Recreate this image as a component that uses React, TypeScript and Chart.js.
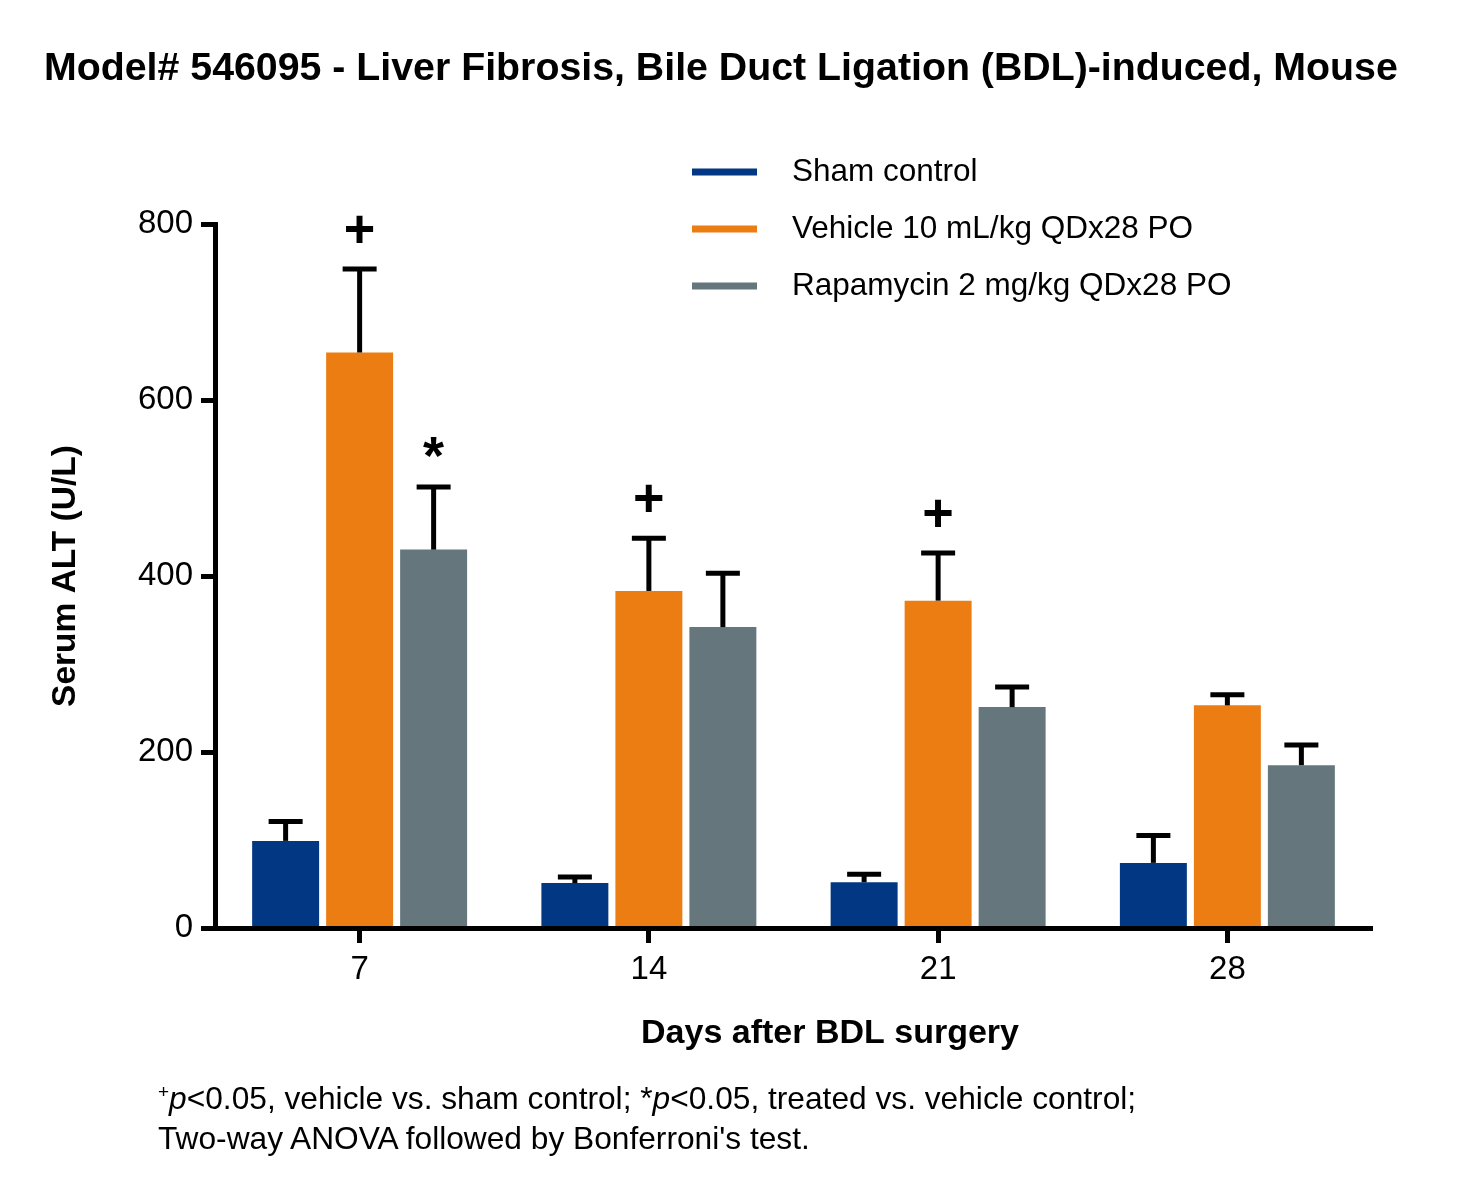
import { useEffect, useRef } from "react"
import { Chart, registerables } from "chart.js"

Chart.register(...registerables)

const FONT = "'Liberation Sans', Arial, sans-serif"

const chartTitle = "Model# 546095 - Liver Fibrosis, Bile Duct Ligation (BDL)-induced, Mouse"
const xTitle = "Days after BDL surgery"
const yTitle = "Serum ALT (U/L)"

// Days after surgery (categories)
const days = ["7", "14", "21", "28"]
const yTicks = [0, 200, 400, 600, 800]

const groupLabels = ["Sham control", "Vehicle 10 mL/kg QDx28 PO", "Rapamycin 2 mg/kg QDx28 PO"]
const groupColors = ["#023883", "#EB7D13", "#65767C"]

// Serum ALT (U/L), mean and upper SEM
const shamMean = [99, 51, 52, 74]
const shamSem = [22, 7, 9, 31]
const vehicleMean = [654, 383, 372, 253]
const vehicleSem = [95, 60, 54, 12]
const rapaMean = [430, 342, 251, 185]
const rapaSem = [71, 61, 23, 23]

// significance marks above the error bars
const shamMarks = ["", "", "", ""]
const vehicleMarks = ["+", "+", "+", ""]
const rapaMarks = ["*", "", "", ""]

const decorPlugin = {
  id: "decor",
  afterDatasetsDraw(chart: any) {
    const { ctx } = chart
    const yScale = chart.scales.y
    ctx.save()
    ctx.strokeStyle = "#000"
    ctx.fillStyle = "#000"
    chart.data.datasets.forEach((ds: any, di: number) => {
      const meta = chart.getDatasetMeta(di)
      meta.data.forEach((bar: any, i: number) => {
        const top = yScale.getPixelForValue(ds.data[i] + ds.sem[i])
        ctx.lineWidth = 5
        ctx.beginPath()
        ctx.moveTo(bar.x, bar.y)
        ctx.lineTo(bar.x, top)
        ctx.stroke()
        ctx.beginPath()
        ctx.moveTo(bar.x - 17, top)
        ctx.lineTo(bar.x + 17, top)
        ctx.stroke()
        const mark = ds.marks[i]
        if (mark) {
          ctx.font = `bold 54px ${FONT}`
          ctx.textAlign = "center"
          ctx.textBaseline = "alphabetic"
          ctx.fillText(mark, bar.x, top - (mark === "*" ? 13 : 22))
        }
      })
    })
    ctx.restore()
  },
  afterDraw(chart: any) {
    const { ctx, chartArea } = chart
    ctx.save()
    ctx.fillStyle = "#000"

    // main title
    ctx.font = `bold 39.3px ${FONT}`
    ctx.textAlign = "left"
    ctx.textBaseline = "middle"
    ctx.fillText(chartTitle, 44, 69)

    // legend inside the plot area
    ctx.font = `31.5px ${FONT}`
    chart.data.datasets.forEach((ds: any, i: number) => {
      const y = chartArea.top - 52 + i * 57
      ctx.fillStyle = ds.backgroundColor
      ctx.fillRect(chartArea.left + 477, y - 3.5, 65, 7)
      ctx.fillStyle = "#000"
      ctx.fillText(ds.label, chartArea.left + 577, y)
    })

    // x axis title (sits right of the plot centre in the original)
    ctx.font = `bold 34px ${FONT}`
    ctx.textAlign = "center"
    ctx.fillText(xTitle, chartArea.left + 615, chartArea.bottom + 106)
    ctx.restore()
  },
}

function AltChart() {
  const chartRef = useRef<HTMLCanvasElement>(null)
  const chartInstance = useRef<Chart | null>(null)

  useEffect(() => {
    if (!chartRef.current) return
    if (chartInstance.current) chartInstance.current.destroy()
    const ctx = chartRef.current.getContext("2d")
    if (!ctx) return

    const means = [shamMean, vehicleMean, rapaMean]
    const sems = [shamSem, vehicleSem, rapaSem]
    const marks = [shamMarks, vehicleMarks, rapaMarks]

    chartInstance.current = new Chart(ctx, {
      type: "bar",
      data: {
        labels: days,
        datasets: groupLabels.map((label, i) => ({
          label,
          data: means[i],
          sem: sems[i],
          marks: marks[i],
          backgroundColor: groupColors[i],
          borderWidth: 0,
          categoryPercentage: 0.7675,
          barPercentage: 0.905,
        })) as any,
      },
      options: {
        responsive: true,
        maintainAspectRatio: false,
        animation: false,
        layout: { padding: { left: 44, right: 110, top: 224, bottom: 201 } },
        plugins: {
          legend: { display: false },
          tooltip: { enabled: false },
        },
        scales: {
          x: {
            border: { display: true, color: "#000", width: 5, z: 1 },
            grid: {
              display: true,
              drawOnChartArea: false,
              drawTicks: true,
              offset: false,
              tickLength: 15,
              tickWidth: 5,
              tickColor: "#000",
              color: "#000",
            },
            ticks: { color: "#000", font: { family: FONT, size: 33 }, padding: 7 },
            afterFit: (s: any) => {
              s.height = 70
            },
          },
          y: {
            min: 0,
            max: 800,
            border: { display: true, color: "#000", width: 5, z: 1 },
            grid: {
              display: true,
              drawOnChartArea: false,
              drawTicks: true,
              tickLength: 14,
              tickWidth: 5,
              tickColor: "#000",
              color: "#000",
            },
            ticks: { color: "#000", font: { family: FONT, size: 33 }, padding: 8 },
            afterBuildTicks: (s: any) => {
              s.ticks = yTicks.map((v) => ({ value: v }))
            },
            afterFit: (s: any) => {
              s.width = 171
            },
            title: {
              display: true,
              text: yTitle,
              color: "#000",
              font: { family: FONT, size: 33.5, weight: "bold" },
              padding: { top: 2, bottom: 0 },
            },
          },
        },
      },
      plugins: [decorPlugin],
    })

    return () => {
      if (chartInstance.current) {
        chartInstance.current.destroy()
        chartInstance.current = null
      }
    }
  }, [])

  return (
    <div style={{ position: "absolute", left: 0, top: 0, width: 1482, height: 1199 }}>
      <canvas ref={chartRef}></canvas>
    </div>
  )
}

export default function App() {
  const lineStyle = { height: 40, whiteSpace: "nowrap" as const }
  return (
    <div style={{ position: "fixed", left: 0, top: 0, width: 1482, height: 1199, background: "#fff" }}>
      <AltChart />
      <div
        style={{
          position: "absolute",
          left: 158,
          top: 1078,
          fontFamily: FONT,
          fontSize: 31.7,
          lineHeight: "40px",
          color: "#000",
        }}
      >
        <div style={lineStyle}>
          <span style={{ fontSize: 19, position: "relative", top: -11, lineHeight: 0 }}>+</span>
          <i>p</i>&lt;0.05, vehicle vs. sham control; *<i>p</i>&lt;0.05, treated vs. vehicle control;
        </div>
        <div style={lineStyle}>Two-way ANOVA followed by Bonferroni's test.</div>
      </div>
    </div>
  )
}
